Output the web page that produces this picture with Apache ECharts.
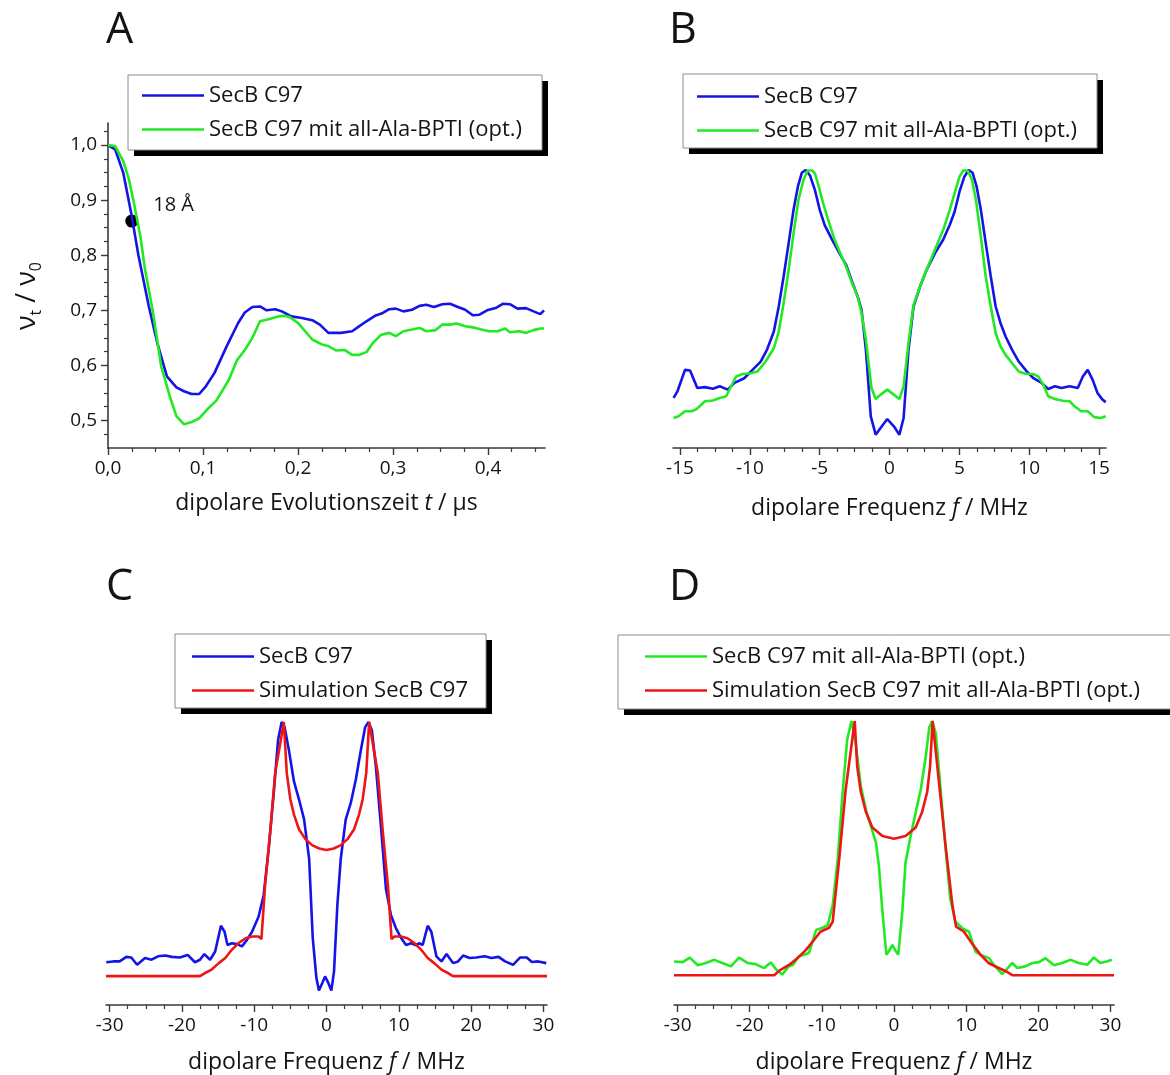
<!DOCTYPE html>
<html>
<head>
<meta charset="utf-8">
<script src="https://cdn.jsdelivr.net/npm/echarts@6/dist/echarts.min.js"></script>
<style>
  html, body { margin: 0; padding: 0; background: #fff; }
  #chart { width: 1170px; height: 1075px; }
</style>
</head>
<body>
<div id="chart"></div>
<script>
// ---- Panel A: DEER time traces (nu_t / nu_0 vs. t in µs) ----
const timeSecbA = [0,0.0075,0.016,0.025,0.032,0.043,0.052,0.062,0.072,0.08,0.088,0.096,0.103,0.112,0.125,0.137,0.144,0.152,0.16,0.167,0.176,0.183,0.193,0.204,0.215,0.223,0.232,0.245,0.257,0.262,0.272,0.281,0.288,0.296,0.303,0.311,0.32,0.328,0.335,0.343,0.352,0.36,0.367,0.376,0.384,0.391,0.399,0.408,0.416,0.423,0.431,0.44,0.448,0.455,0.459];
const valSecbA = [1.0,0.992,0.95,0.871,0.80,0.707,0.64,0.58,0.56,0.553,0.548,0.548,0.562,0.586,0.635,0.677,0.696,0.706,0.707,0.70,0.702,0.698,0.689,0.686,0.682,0.674,0.659,0.659,0.662,0.668,0.68,0.69,0.694,0.702,0.703,0.698,0.701,0.708,0.71,0.706,0.711,0.712,0.707,0.701,0.691,0.692,0.70,0.704,0.712,0.711,0.703,0.704,0.698,0.693,0.70];
const timeAlaA = [0,0.0075,0.016,0.022,0.028,0.034,0.039,0.047,0.056,0.065,0.072,0.08,0.088,0.096,0.105,0.114,0.127,0.136,0.144,0.152,0.16,0.17,0.18,0.185,0.191,0.2,0.208,0.215,0.225,0.232,0.24,0.249,0.257,0.264,0.272,0.279,0.287,0.296,0.303,0.311,0.32,0.328,0.335,0.345,0.352,0.36,0.367,0.376,0.384,0.393,0.401,0.41,0.418,0.423,0.433,0.44,0.448,0.455,0.459];
const valAlaA = [1.0,0.998,0.971,0.938,0.889,0.835,0.774,0.70,0.598,0.544,0.508,0.493,0.497,0.504,0.521,0.536,0.573,0.61,0.628,0.65,0.68,0.684,0.689,0.69,0.688,0.677,0.661,0.647,0.638,0.635,0.627,0.628,0.619,0.619,0.624,0.641,0.655,0.659,0.653,0.662,0.665,0.668,0.662,0.664,0.674,0.674,0.676,0.671,0.669,0.665,0.662,0.662,0.667,0.66,0.662,0.659,0.664,0.667,0.667];
const distanceMark = [0.025, 0.862];
const distanceText = '18 Å';
const ticksTimeA = [0, 0.1, 0.2, 0.3, 0.4];
const ticksRatioA = [0.5, 0.6, 0.7, 0.8, 0.9, 1.0];

// ---- Panel B: dipolar spectra, ±15.5 MHz ----
const freqSecbB = [-15.46,-15.18,-14.64,-14.28,-13.76,-13.22,-12.64,-12.16,-11.58,-11.1,-10.4,-9.81,-9.22,-8.75,-8.28,-7.93,-7.58,-7.22,-6.87,-6.56,-6.28,-6.0,-5.69,-5.34,-4.99,-4.64,-4.16,-3.58,-3.11,-2.64,-2.28,-2.0,-1.69,-1.34,-0.99,-0.64,-0.16,0.31,0.71,1.01,1.36,1.72,2.19,2.66,3.25,3.84,4.31,4.66,5.01,5.36,5.67,5.95,6.24,6.54,6.89,7.25,7.6,7.95,8.31,8.78,9.25,9.84,10.31,10.89,11.36,11.84,12.31,12.89,13.48,13.84,14.19,14.54,14.89,15.25,15.48];
const intSecbB = [0.18,0.204,0.281,0.279,0.216,0.219,0.213,0.222,0.21,0.234,0.251,0.281,0.311,0.356,0.419,0.509,0.617,0.737,0.857,0.94,0.99,1.0,0.98,0.928,0.856,0.802,0.754,0.70,0.659,0.593,0.545,0.497,0.353,0.114,0.048,0.072,0.104,0.078,0.048,0.108,0.353,0.509,0.581,0.641,0.70,0.749,0.802,0.85,0.922,0.976,1.0,0.99,0.94,0.857,0.737,0.617,0.509,0.449,0.401,0.353,0.311,0.275,0.251,0.234,0.212,0.222,0.216,0.222,0.216,0.257,0.281,0.246,0.198,0.174,0.165];
const freqAlaB = [-15.46,-15.1,-14.64,-14.16,-13.81,-13.22,-12.64,-12.16,-11.69,-11.34,-10.99,-10.52,-9.93,-9.46,-8.87,-8.28,-7.93,-7.58,-7.22,-6.87,-6.52,-6.16,-5.86,-5.53,-5.34,-5.06,-4.75,-4.35,-3.93,-3.58,-3.11,-2.64,-2.28,-2.0,-1.69,-1.29,-0.99,-0.64,-0.16,0.31,0.71,1.01,1.36,1.72,2.19,2.66,3.25,3.84,4.31,4.66,5.01,5.29,5.6,5.91,6.19,6.54,6.89,7.25,7.6,7.95,8.31,8.78,9.25,9.72,10.31,10.66,11.01,11.36,11.84,12.42,12.89,13.25,13.72,14.19,14.66,15.13,15.48];
const intAlaB = [0.108,0.114,0.132,0.132,0.14,0.168,0.171,0.18,0.186,0.222,0.257,0.266,0.269,0.275,0.311,0.359,0.419,0.521,0.641,0.772,0.892,0.964,0.998,0.998,0.988,0.94,0.88,0.814,0.749,0.707,0.653,0.587,0.545,0.485,0.389,0.216,0.176,0.192,0.21,0.192,0.176,0.222,0.377,0.515,0.581,0.641,0.713,0.784,0.856,0.916,0.976,0.998,0.998,0.964,0.892,0.76,0.617,0.509,0.413,0.365,0.335,0.305,0.275,0.267,0.266,0.257,0.228,0.186,0.176,0.17,0.168,0.15,0.132,0.132,0.111,0.108,0.114];
const ticksFreqB = [-15, -10, -5, 0, 5, 10, 15];

// ---- Panel C: SecB C97 spectrum and its simulation, ±30.5 MHz ----
const freqSecbC = [-30.46,-29.5,-28.6,-27.7,-27,-26.2,-25.1,-24.2,-23.3,-22.3,-21.4,-20.3,-19.2,-18.2,-17.5,-16.9,-16.1,-15.4,-14.6,-14.1,-13.7,-13.1,-12.4,-11.7,-11.0,-10.3,-9.4,-8.7,-8.0,-7.3,-6.7,-6.2,-5.8,-5.2,-4.5,-3.8,-3.1,-2.4,-1.9,-1.4,-1.05,-0.58,-0.2,0.25,0.67,1.04,1.5,1.97,2.66,3.36,4.05,4.75,5.35,5.81,6.28,6.83,7.53,8.22,8.92,9.61,10.3,11.0,11.7,12.3,12.9,13.3,14.0,14.5,15.2,15.9,16.6,17.5,18.2,18.9,19.8,20.7,21.9,22.8,23.8,24.7,25.8,26.8,27.7,28.4,29.3,30.4];
const intSecbC = [0.151,0.154,0.154,0.17,0.168,0.142,0.166,0.16,0.172,0.175,0.17,0.168,0.177,0.151,0.16,0.18,0.16,0.189,0.28,0.259,0.212,0.218,0.215,0.207,0.23,0.259,0.312,0.387,0.551,0.749,0.936,1.0,0.982,0.9,0.79,0.726,0.656,0.516,0.236,0.096,0.051,0.078,0.101,0.078,0.051,0.119,0.352,0.516,0.656,0.714,0.796,0.9,0.982,1.0,0.97,0.842,0.632,0.411,0.317,0.271,0.238,0.212,0.218,0.212,0.218,0.212,0.28,0.259,0.172,0.154,0.18,0.148,0.154,0.175,0.166,0.168,0.172,0.166,0.17,0.154,0.142,0.168,0.168,0.152,0.154,0.148];
const freqSimC = [-30.5,-17.5,-16.8,-15.9,-14.9,-14.0,-13.1,-12.2,-11.2,-10.3,-9.4,-9.0,-8.5,-7.8,-7.1,-5.9,-5.5,-5.0,-4.5,-3.8,-2.9,-2.0,-1.0,0,1.0,2.0,2.9,3.8,4.5,5.0,5.5,5.9,7.1,7.8,8.5,9.0,9.4,10.3,11.2,12.2,13.1,14.0,14.9,15.9,16.8,17.5,30.5];
const intSimC = [0.102,0.102,0.113,0.125,0.148,0.166,0.195,0.218,0.236,0.242,0.242,0.233,0.422,0.609,0.819,1.0,0.82,0.726,0.673,0.62,0.586,0.565,0.553,0.548,0.553,0.565,0.586,0.62,0.673,0.726,0.82,1.0,0.819,0.609,0.422,0.233,0.242,0.242,0.236,0.218,0.195,0.166,0.148,0.125,0.113,0.102,0.102];

// ---- Panel D: all-Ala-BPTI complex spectrum and its simulation ----
const freqAlaD = [-30.5,-29.3,-28.3,-27.2,-26.1,-24.9,-23.8,-22.6,-21.5,-20.3,-19.2,-18.0,-17.1,-16.3,-15.5,-14.6,-14.0,-13.2,-12.5,-11.8,-10.8,-9.9,-9.2,-8.5,-7.8,-7.2,-6.5,-5.9,-5.3,-4.6,-3.9,-3.2,-2.5,-2.1,-1.6,-1.06,-0.6,-0.23,0.14,0.6,1.15,1.6,2.3,3.0,3.7,4.4,4.9,5.3,5.8,6.5,7.2,7.8,8.5,9.5,10.4,11.3,12.2,13.2,13.8,15.0,15.7,16.4,17.1,18.2,19.2,20.1,21.0,22.2,23.3,24.5,25.6,26.8,27.7,28.6,29.5,30.2];
const intAlaD = [0.153,0.151,0.167,0.14,0.148,0.159,0.148,0.136,0.167,0.148,0.144,0.13,0.15,0.124,0.107,0.136,0.142,0.171,0.177,0.183,0.264,0.272,0.281,0.351,0.514,0.723,0.933,1.0,0.921,0.77,0.688,0.63,0.572,0.491,0.328,0.177,0.194,0.212,0.194,0.177,0.328,0.502,0.595,0.677,0.758,0.874,0.979,1.0,0.956,0.747,0.537,0.374,0.293,0.27,0.258,0.188,0.174,0.165,0.142,0.109,0.128,0.148,0.13,0.136,0.148,0.151,0.165,0.14,0.148,0.159,0.148,0.142,0.167,0.148,0.153,0.159];
const freqSimD = [-30.5,-16.6,-15.9,-14.5,-13.4,-12.2,-11.1,-10.2,-9.0,-8.5,-7.6,-6.7,-5.45,-5.1,-4.6,-3.9,-3.0,-1.6,0,1.6,3.0,3.9,4.6,5.0,5.35,6.2,7.15,8.1,8.6,9.7,10.8,12.0,13.1,14.3,15.5,16.4,30.5];
const intSimD = [0.105,0.105,0.121,0.142,0.165,0.194,0.229,0.258,0.272,0.293,0.514,0.758,1.0,0.84,0.75,0.68,0.625,0.595,0.585,0.595,0.625,0.68,0.75,0.84,1.0,0.793,0.56,0.351,0.276,0.258,0.217,0.177,0.148,0.133,0.119,0.105,0.105];
const ticksFreqCD = [-30, -20, -10, 0, 10, 20, 30];

// ---- names, panel letters ----
const nameSecb = 'SecB C97';
const nameAla = 'SecB C97 mit all-Ala-BPTI (opt.)';
const nameSimSecb = 'Simulation SecB C97';
const nameSimAla = 'Simulation SecB C97 mit all-Ala-BPTI (opt.)';
const panelLetters = ['A', 'B', 'C', 'D'];

// ---- styling ----
const FONT = '"Open Sans", Lato, sans-serif';
const INK = '#141414';
const AXIS = '#3a3a3a';
const BLUE = '#1414e6';
const GREEN = '#22ea22';
const RED = '#ee1515';

const zip = (xs, ys) => xs.map((x, i) => [x, ys[i]]);

// three minor ticks between neighbouring major ticks
function minorTicks(major, lo, hi) {
  const step = (major[1] - major[0]) / 4;
  const out = [];
  const start = Math.ceil((lo - major[0]) / step - 1e-9);
  for (let k = start; major[0] + k * step <= hi + 1e-9; k++) {
    if (((k % 4) + 4) % 4 !== 0) out.push(+(major[0] + k * step).toFixed(6));
  }
  return out;
}
const comma = v => v.toFixed(1).replace('.', ',');

function majorAxis(grid, pos, min, max, ticks, fmt, extra) {
  return Object.assign({
    type: 'value', gridIndex: grid, position: pos, min, max,
    axisLine: { show: true, onZero: false, lineStyle: { color: AXIS, width: 1.6 } },
    axisTick: { show: true, inside: false, length: 7, customValues: ticks, lineStyle: { color: AXIS, width: 1.4 } },
    axisLabel: { show: true, customValues: ticks, formatter: fmt, color: INK, fontSize: 19, fontFamily: FONT, margin: 11 },
    splitLine: { show: false }
  }, extra || {});
}
function minorAxis(grid, pos, min, max, ticks) {
  return {
    type: 'value', gridIndex: grid, position: pos, min, max,
    axisLine: { show: false, onZero: false },
    axisTick: { show: true, inside: false, length: 4, customValues: ticks, lineStyle: { color: AXIS, width: 1.2 } },
    axisLabel: { show: false },
    splitLine: { show: false }
  };
}
function hiddenY(grid) {
  return { type: 'value', gridIndex: grid, min: 0, max: 1, show: false };
}
const freqName = '{a|dipolare Frequenz }{i|f}{a| / MHz}';
const nameRich = {
  a: { fontSize: 23, fontFamily: FONT, color: INK },
  i: { fontSize: 23, fontFamily: FONT, color: INK, fontStyle: 'italic' }
};

function lineSeries(name, color, xs, ys, xi, yi) {
  return {
    type: 'line', name, data: zip(xs, ys), xAxisIndex: xi, yAxisIndex: yi,
    symbol: 'none', clip: false, smooth: false,
    lineStyle: { color, width: 2.6 }, itemStyle: { color },
    emphasis: { disabled: true }
  };
}

// legend entries: line icon, text; the framed box is drawn as graphics below
function legendList(names, left, top) {
  return {
    data: names.map(n => ({ name: n, icon: 'rect' })),
    orient: 'vertical', left, top,
    itemWidth: 62, itemHeight: 2.6, itemGap: 9,
    padding: 0, backgroundColor: 'transparent', borderWidth: 0,
    selectedMode: false,
    textStyle: { fontSize: 22, fontFamily: FONT, color: INK, lineHeight: 25 }
  };
}
// legend frames: [left, top, width, height]
const legendFrames = [[128, 75, 414, 75], [683, 74, 414, 74], [175, 634, 311, 74], [618, 635, 570, 74]];
const frameGraphics = [];
legendFrames.forEach(([x, y, w, h]) => {
  frameGraphics.push({ type: 'rect', z: 1, silent: true, shape: { x: x + 6, y: y + 6, width: w, height: h }, style: { fill: '#000' } });
  frameGraphics.push({ type: 'rect', z: 2, silent: true, shape: { x, y, width: w, height: h }, style: { fill: '#fff', stroke: '#8c8c8c', lineWidth: 1 } });
});

const letterPos = [[106, 9], [669, 9], [106, 566], [669, 566]];
const letterGraphics = panelLetters.map((t, i) => ({
  type: 'text', x: letterPos[i][0], y: letterPos[i][1], silent: true,
  style: { text: t, fontSize: 43, fontFamily: FONT, fill: INK, verticalAlign: 'top' }
}));

// y-axis title of panel A: nu_t / nu_0, rotated
const yTitleA = {
  type: 'text', x: 27, y: 296, rotation: Math.PI / 2, silent: true,
  style: {
    text: '{n|ν}{s|t}{n| / ν}{s|0}', align: 'center', verticalAlign: 'middle',
    rich: {
      n: { fontSize: 27, fontFamily: FONT, fill: INK, lineHeight: 34 },
      s: { fontSize: 16, fontFamily: FONT, fill: INK, lineHeight: 16, verticalAlign: 'bottom' }
    }
  }
};

const chart = echarts.init(document.getElementById('chart'), null, { renderer: 'canvas' });

const xMinA = 0, xMaxA = 0.46, yMinA = 0.45, yMaxA = 1.04;

chart.setOption({
  animation: false,
  backgroundColor: '#fff',
  grid: [
    { left: 108, top: 123, width: 437, height: 325 },
    { left: 673, top: 170, width: 433, height: 278 },
    { left: 106, top: 722, width: 441, height: 285 },
    { left: 674, top: 721, width: 440, height: 286 }
  ],
  xAxis: [
    majorAxis(0, 'bottom', xMinA, xMaxA, ticksTimeA, comma, {
      name: '{a|dipolare Evolutionszeit }{i|t}{a| / µs}', nameLocation: 'middle', nameGap: 44,
      nameTextStyle: { rich: nameRich }
    }),
    minorAxis(0, 'bottom', xMinA, xMaxA, minorTicks(ticksTimeA, 0, 0.45)),
    majorAxis(1, 'bottom', -15.5, 15.5, ticksFreqB, v => String(v), {
      name: freqName, nameLocation: 'middle', nameGap: 49, nameTextStyle: { rich: nameRich }
    }),
    minorAxis(1, 'bottom', -15.5, 15.5, minorTicks(ticksFreqB, -15, 15)),
    majorAxis(2, 'bottom', -30.5, 30.5, ticksFreqCD, v => String(v), {
      name: freqName, nameLocation: 'middle', nameGap: 46, nameTextStyle: { rich: nameRich }
    }),
    minorAxis(2, 'bottom', -30.5, 30.5, minorTicks(ticksFreqCD, -30, 30)),
    majorAxis(3, 'bottom', -30.5, 30.5, ticksFreqCD, v => String(v), {
      name: freqName, nameLocation: 'middle', nameGap: 46, nameTextStyle: { rich: nameRich }
    }),
    minorAxis(3, 'bottom', -30.5, 30.5, minorTicks(ticksFreqCD, -30, 30))
  ],
  yAxis: [
    majorAxis(0, 'left', yMinA, yMaxA, ticksRatioA, comma),
    minorAxis(0, 'left', yMinA, yMaxA, minorTicks(ticksRatioA, 0.475, 1.025)),
    hiddenY(1), hiddenY(2), hiddenY(3)
  ],
  legend: [
    legendList([nameSecb, nameAla], 142, 83),
    legendList([nameSecb, nameAla], 697, 84),
    legendList([nameSecb, nameSimSecb], 192, 644),
    legendList([nameAla, nameSimAla], 645, 644)
  ],
  graphic: frameGraphics.concat(letterGraphics, [yTitleA]),
  series: [
    lineSeries(nameSecb, BLUE, timeSecbA, valSecbA, 0, 0),
    lineSeries(nameAla, GREEN, timeAlaA, valAlaA, 0, 0),
    {
      type: 'scatter', name: 'distance', xAxisIndex: 0, yAxisIndex: 0,
      data: [distanceMark], symbolSize: 13, clip: false,
      itemStyle: { color: '#000', opacity: 1 }, emphasis: { disabled: true },
      label: { show: true, formatter: distanceText, position: 'right', offset: [10, -16],
               fontSize: 20, fontFamily: FONT, color: INK, opacity: 1 }
    },
    lineSeries(nameSecb, BLUE, freqSecbB, intSecbB, 2, 2),
    lineSeries(nameAla, GREEN, freqAlaB, intAlaB, 2, 2),
    lineSeries(nameSecb, BLUE, freqSecbC, intSecbC, 4, 3),
    lineSeries(nameSimSecb, RED, freqSimC, intSimC, 4, 3),
    lineSeries(nameAla, GREEN, freqAlaD, intAlaD, 6, 4),
    lineSeries(nameSimAla, RED, freqSimD, intSimD, 6, 4)
  ]
});
</script>
</body>
</html>
